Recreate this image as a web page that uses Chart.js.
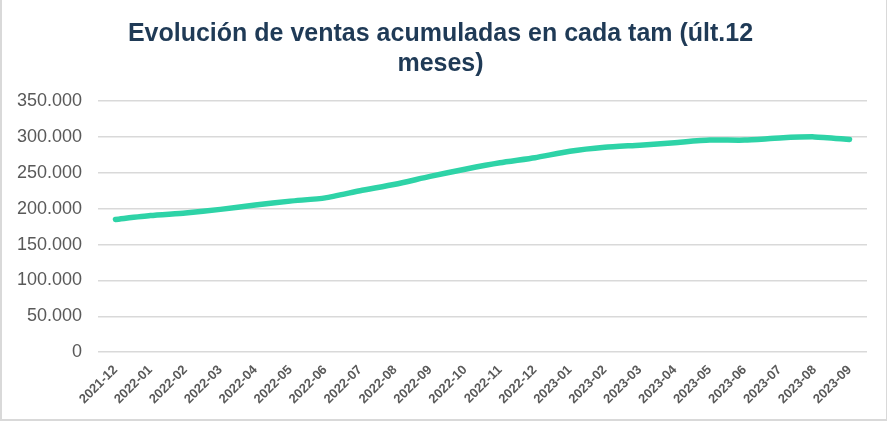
<!DOCTYPE html>
<html>
<head>
<meta charset="utf-8">
<script src="https://cdn.jsdelivr.net/npm/chart.js@4"></script>
<style>
  html, body { margin: 0; padding: 0; background: #fff; }
  #wrap { position: relative; width: 884px; height: 419px; border: 2px solid #d9d9d9; border-top: 0; border-right-width: 1px; }
</style>
</head>
<body>
<div id="wrap"><canvas id="chart"></canvas></div>
<script>
// --- datos ---
const meses = ['2021-12', '2022-01', '2022-02', '2022-03', '2022-04', '2022-05', '2022-06', '2022-07',
  '2022-08', '2022-09', '2022-10', '2022-11', '2022-12', '2023-01', '2023-02', '2023-03',
  '2023-04', '2023-05', '2023-06', '2023-07', '2023-08', '2023-09'];
const ventasAcumuladas = [185000, 190500, 194000, 199000, 205000, 210500, 215000, 225000,
  234000, 245000, 255000, 264000, 271000, 280000, 285500, 288500,
  292000, 295500, 295500, 298500, 300000, 296500];

const titulo = ['Evolución de ventas acumuladas en cada tam (últ.12', 'meses)'];

// formato con punto de miles
const fmt = (v) => String(v).replace(/\B(?=(\d{3})+(?!\d))/g, '.');

const ctx = document.getElementById('chart').getContext('2d');
new Chart(ctx, {
  type: 'line',
  data: {
    labels: meses,
    datasets: [{
      data: ventasAcumuladas,
      borderColor: '#2ED3A7',
      borderWidth: 5.5,
      pointRadius: 0,
      tension: 0.2,
      borderCapStyle: 'round',
      fill: false
    }]
  },
  options: {
    responsive: true,
    maintainAspectRatio: false,
    animation: false,
    layout: { padding: { left: 12, right: 19, top: 4, bottom: 10 } },
    plugins: {
      legend: { display: false },
      tooltip: { enabled: false },
      title: {
        display: true,
        text: titulo,
        color: '#1F3A56',
        font: { family: 'Liberation Sans, Arial, sans-serif', size: 25, weight: 'bold', lineHeight: 1.2 },
        padding: { top: 15, bottom: 22 }
      }
    },
    scales: {
      x: {
        offset: true,
        grid: { display: false },
        border: { display: false },
        // las etiquetas giradas no deben empujar el área del gráfico
        afterFit: (scale) => { scale.paddingLeft = 0; scale.paddingRight = 0; },
        ticks: {
          color: '#595959',
          maxRotation: 45,
          minRotation: 45,
          autoSkip: false,
          padding: 2,
          font: { family: 'Liberation Sans, Arial, sans-serif', size: 13, weight: 'bold' }
        }
      },
      y: {
        min: 0,
        max: 350000,
        grid: { color: '#d9d9d9', lineWidth: 1.5, drawTicks: false },
        border: { display: false },
        afterFit: (scale) => { scale.width = 84; },
        ticks: {
          stepSize: 50000,
          padding: 16,
          color: '#595959',
          font: { family: 'Liberation Sans, Arial, sans-serif', size: 18 },
          callback: (v) => fmt(v)
        }
      }
    }
  }
});
</script>
</body>
</html>
